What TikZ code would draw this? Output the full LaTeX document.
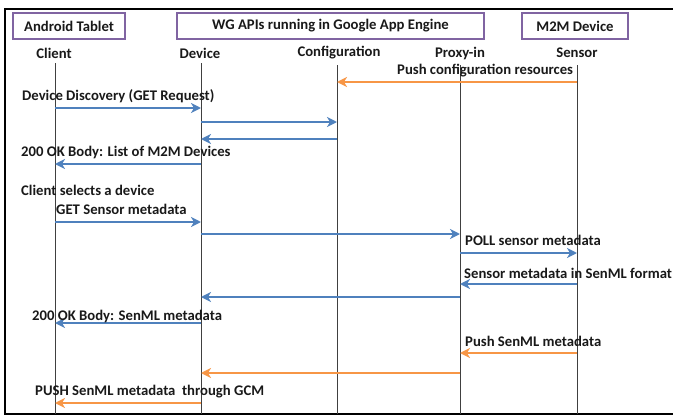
\documentclass[tikz,border=0pt]{standalone}
\usepackage{fontspec}
\setmainfont{Carlito}
\usetikzlibrary{arrows.meta}
\definecolor{boxpurple}{HTML}{8064A2}
\definecolor{msgblue}{HTML}{4F81BD}
\definecolor{msgorange}{HTML}{F79646}
\begin{document}
\begin{tikzpicture}[x=1pt,y=-1pt,
  txt/.style={font=\bfseries\fontsize{14.7}{16}\selectfont, text=black!90, inner sep=0pt},
  hdrbox/.style={txt, draw=boxpurple, line width=1.6pt, minimum height=26pt, fill=white},
  life/.style={draw=black!75, line width=0.8pt},
  bluemsg/.style={draw=msgblue, line width=2pt, -{Stealth[length=10pt,width=10pt,inset=3pt]}},
  orangemsg/.style={draw=msgorange, line width=2pt, -{Stealth[length=10pt,width=10pt,inset=3pt]}}]
\useasboundingbox (0,0) rectangle (673,415);
% frame
\coordinate (FA) at (673,9);
\coordinate (FB) at (5,9);
\coordinate (FC) at (5,414);
\coordinate (FD) at (673,414);
\draw [line width=2pt] (FA)--(FB)--(FC)--(FD);

% header boxes
\node [hdrbox, minimum width=112pt] (tablet) at (69,26) {Android Tablet};
\node [hdrbox, minimum width=307pt] (wg) at (330.5,26) {WG APIs running in Google App Engine};
\node [hdrbox, minimum width=106pt] (m2m) at (575,26) {M2M Device};

% lifeline names
\node [txt] (client) at (54,53) {Client};
\node [txt] (device) at (200,53) {Device};
\node [txt] (config) at (339,53) {Configuration};
\node [txt] (proxy) at (460,53) {Proxy-in};
\node [txt] (sensor) at (577,53) {Sensor};

% lifelines
\coordinate (CT) at (55,63);
\coordinate (DT) at (201,63);
\coordinate (GT) at (337,65);
\coordinate (PT) at (460,65);
\coordinate (ST) at (577,65);
\draw [life] (CT) -- (CT |- FC);
\draw [life] (DT) -- (DT |- FC);
\draw [life] (GT) -- (GT |- FC);
\draw [life] (PT) -- (PT |- FC);
\draw [life] (ST) -- (ST |- FC);

% message heights
\coordinate (m1) at (0,82);
\coordinate (m2) at (0,108);
\coordinate (m3) at (0,122);
\coordinate (m4) at (0,139);
\coordinate (m5) at (0,164);
\coordinate (m6) at (0,222);
\coordinate (m7) at (0,234);
\coordinate (m8) at (0,253);
\coordinate (m9) at (0,284);
\coordinate (m10) at (0,297);
\coordinate (m11) at (0,323);
\coordinate (m12) at (0,353);
\coordinate (m13) at (0,373);
\coordinate (m14) at (0,403);

\draw [orangemsg] (ST |- m1) -- (GT |- m1);
\draw [bluemsg] (CT |- m2) -- (DT |- m2);
\draw [bluemsg] (DT |- m3) -- (GT |- m3);
\draw [bluemsg] (GT |- m4) -- (DT |- m4);
\draw [bluemsg] (DT |- m5) -- (CT |- m5);
\draw [bluemsg] (CT |- m6) -- (DT |- m6);
\draw [bluemsg] (DT |- m7) -- (PT |- m7);
\draw [bluemsg] (PT |- m8) -- (ST |- m8);
\draw [bluemsg] (ST |- m9) -- (PT |- m9);
\draw [bluemsg] (PT |- m10) -- (DT |- m10);
\draw [bluemsg] (DT |- m11) -- (CT |- m11);
\draw [orangemsg] (ST |- m12) -- (PT |- m12);
\draw [orangemsg] (PT |- m13) -- (DT |- m13);
\draw [orangemsg] (DT |- m14) -- (CT |- m14);

% message labels
\node [txt, anchor=west] (l1) at (397,71) {Push configuration resources};
\node [txt, anchor=west] (l2) at (22,96) {Device Discovery (GET Request)};
\node [txt, anchor=west] (l3) at (21,152) {200 OK Body: List of M2M Devices};
\node [txt, anchor=west] (l4) at (21,190) {Client selects a device};
\node [txt, anchor=west] (l5) at (56,209) {GET Sensor metadata};
\node [txt, anchor=west] (l6) at (465,240) {POLL sensor metadata};
\node [txt, anchor=west] (l7) at (464,273) {Sensor metadata in SenML format};
\node [txt, anchor=west] (l8) at (32,316) {200 OK Body: SenML metadata};
\node [txt, anchor=west] (l9) at (465,341) {Push SenML metadata};
\node [txt, anchor=west] (l10) at (35,392) {PUSH SenML metadata\ \ through GCM};
\end{tikzpicture}
\end{document}
